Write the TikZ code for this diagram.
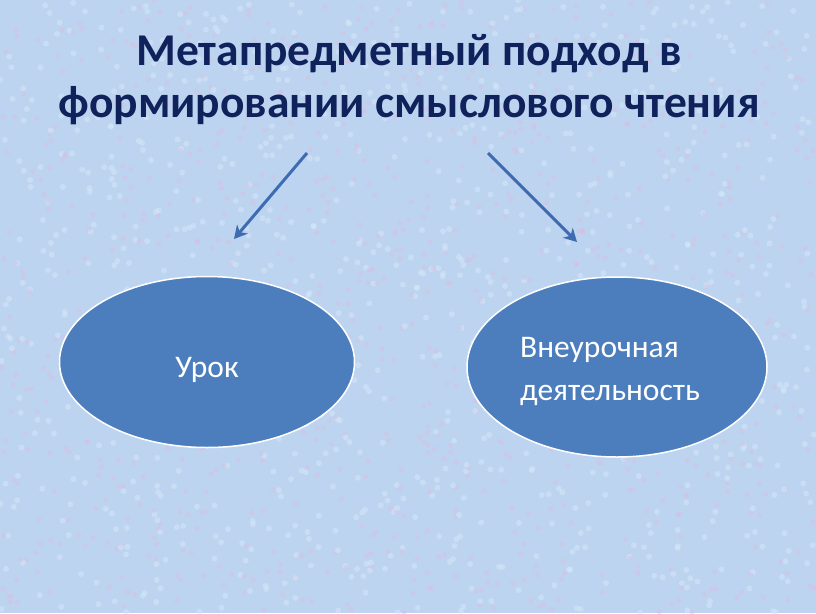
\documentclass[tikz,border=0pt]{standalone}
\usepackage{fontspec}
\setmainfont{Carlito}
\usetikzlibrary{arrows.meta,shapes.geometric}

\definecolor{bgblue}{RGB}{188,212,240}
\definecolor{bgpink}{RGB}{220,188,226}
\definecolor{bglight}{RGB}{214,232,248}
\definecolor{titlenavy}{RGB}{16,34,92}
\definecolor{ovalblue}{RGB}{76,126,189}
\definecolor{arrowblue}{RGB}{62,108,178}

\tikzset{
  oval/.style={ellipse, draw=white, line width=1.5pt, fill=ovalblue, inner sep=0pt},
  ovaltext/.style={text=white, font=\fontsize{31.5}{43}\selectfont, inner sep=0pt},
  pointer/.style={draw=arrowblue, line width=3pt, -{Stealth[length=13pt,width=14pt,inset=4pt]}}
}

\begin{document}
\begin{tikzpicture}[x=1pt,y=-1pt]
  \useasboundingbox (0,0) rectangle (816,613);
  \fill[bgblue] (0,0) rectangle (816,613);
  \begin{scope}
    \clip (0,0) rectangle (816,613);
    \pgfmathsetseed{7}
    \foreach \i in {1,...,900}{
      \pgfmathsetmacro{\px}{rnd*816}
      \pgfmathsetmacro{\py}{rnd*613}
      \fill[bgpink, opacity=0.45] (\px,\py) circle (2.5pt);
      \pgfmathsetmacro{\qx}{rnd*816}
      \pgfmathsetmacro{\qy}{rnd*613}
      \fill[bglight, opacity=0.5] (\qx,\qy) circle (3pt);
    }
  \end{scope}

  \node[text=titlenavy, align=center, font=\bfseries\fontsize{45.5}{52}\selectfont, anchor=base]
    (title) at (409,117) {Метапредметный подход в\\формировании смыслового чтения};

  \coordinate (leftstart) at (307,153);
  \coordinate (leftend) at (234,239);
  \coordinate (rightstart) at (488,153);
  \coordinate (rightend) at (577,242);
  \draw[pointer] (leftstart) -- (leftend);
  \draw[pointer] (rightstart) -- (rightend);

  \node[oval, minimum width=295pt, minimum height=171pt] (lesson) at (207,362) {};
  \node[ovaltext, anchor=base] (lessontext) at (207,377) {Урок};

  \node[oval, minimum width=300pt, minimum height=180pt] (extra) at (617,367) {};
  \node[ovaltext, align=left, anchor=base west] (extratext) at (520,400) {Внеурочная\\деятельность};
\end{tikzpicture}
\end{document}
